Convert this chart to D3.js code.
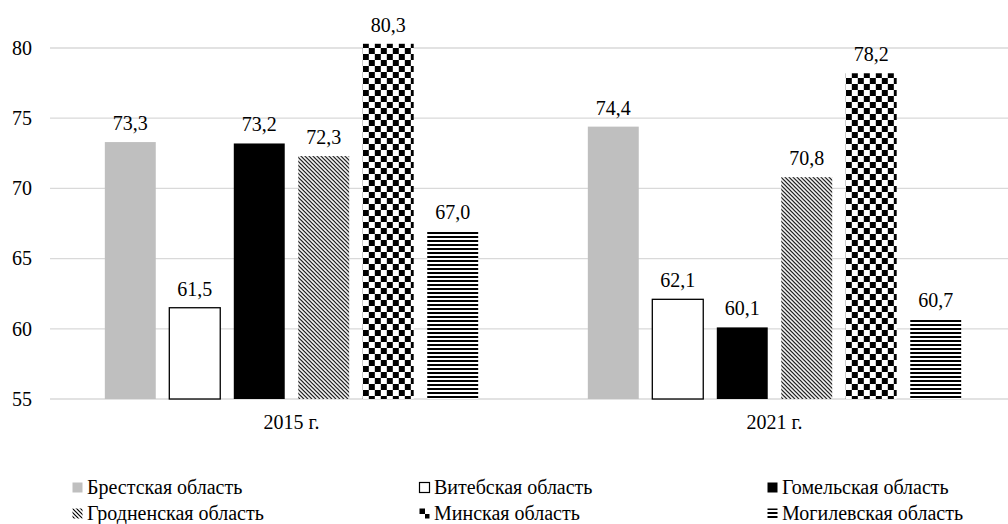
<!DOCTYPE html>
<html>
<head>
<meta charset="utf-8">
<script src="https://cdn.jsdelivr.net/npm/d3@7/dist/d3.min.js"></script>
</head>
<body style="margin:0">
<svg id="chart" width="1008" height="524"></svg>
<script>
// Chart data
const years = ["2015 г.", "2021 г."];
const regions = ["Брестская область", "Витебская область", "Гомельская область",
                 "Гродненская область", "Минская область", "Могилевская область"];
const values2015 = [73.3, 61.5, 73.2, 72.3, 80.3, 67.0];
const values2021 = [74.4, 62.1, 60.1, 70.8, 78.2, 60.7];
const yTicks = [55, 60, 65, 70, 75, 80];

const seriesValues = [values2015, values2021];

const svg = d3.select("#chart");
const width = 1008, height = 524;
const margin = {left: 50, right: -8, top: 48, bottom: 125};
const fontSize = 20;

// same font setup as the test page that rendered serif
const setFont = sel => sel.attr("font-size", fontSize).style("font-family", () => "'Liberation Serif'");

// Patterns for the fills
const defs = svg.append("defs");

const diag = defs.append("pattern").attr("id", "pat-diag")
  .attr("patternUnits", "userSpaceOnUse").attr("width", 4).attr("height", 4);
diag.append("rect").attr("width", 4).attr("height", 4).attr("fill", "#fff");
diag.append("path").attr("d", "M-1,-1 L5,5 M-1,3 L1,5 M3,-1 L5,1")
  .attr("stroke", "#000").attr("stroke-width", 1.2);

const checker = defs.append("pattern").attr("id", "pat-checker")
  .attr("patternUnits", "userSpaceOnUse").attr("width", 12).attr("height", 12);
checker.append("rect").attr("width", 12).attr("height", 12).attr("fill", "#fff");
checker.append("rect").attr("width", 6).attr("height", 6).attr("fill", "#000");
checker.append("rect").attr("x", 6).attr("y", 6).attr("width", 6).attr("height", 6).attr("fill", "#000");

const hlines = defs.append("pattern").attr("id", "pat-hlines")
  .attr("patternUnits", "userSpaceOnUse").attr("width", 4).attr("height", 4);
hlines.append("rect").attr("width", 4).attr("height", 4).attr("fill", "#fff");
hlines.append("rect").attr("y", 0).attr("width", 4).attr("height", 2).attr("fill", "#000");

const fills = ["#bfbfbf", "#fff", "#000", "url(#pat-diag)", "url(#pat-checker)", "url(#pat-hlines)"];
const strokes = ["none", "#000", "none", "none", "none", "none"];

// Scales
const x0 = d3.scaleBand()
  .domain(years)
  .range([margin.left, width - margin.right]);

const x1 = d3.scaleBand()
  .domain(regions)
  .range([0, x0.bandwidth() * 0.773])
  .paddingInner(0.21);

const groupOffset = (x0.bandwidth() - x1.range()[1]) / 2;

const y = d3.scaleLinear()
  .domain([55, 80])
  .range([height - margin.bottom, margin.top]);

// Gridlines
svg.append("g")
  .selectAll("line")
  .data(yTicks)
  .join("line")
  .attr("x1", margin.left)
  .attr("x2", width - margin.right)
  .attr("y1", d => y(d))
  .attr("y2", d => y(d))
  .attr("stroke", "#d9d9d9")
  .attr("stroke-width", 1.3);

// Y axis labels
svg.selectAll("text.ytick")
  .data(yTicks)
  .join("text")
  .attr("class", "ytick")
  .attr("x", margin.left - 18)
  .attr("y", d => y(d))
  .attr("dy", "0.34em")
  .attr("text-anchor", "end")
  .call(setFont)
  .text(d => d);

// X axis labels
svg.selectAll("text.xtick")
  .data(years)
  .join("text")
  .attr("class", "xtick")
  .attr("x", d => x0(d) + x0.bandwidth() / 2)
  .attr("y", y(55) + 30)
  .attr("text-anchor", "middle")
  .call(setFont)
  .text(d => d);

// Bars
const groups = svg.append("g")
  .selectAll("g")
  .data(years)
  .join("g")
  .attr("transform", d => "translate(" + (x0(d) + groupOffset) + ",0)");

groups.selectAll("rect")
  .data((d, i) => seriesValues[i].map((v, j) => ({region: regions[j], value: v, idx: j})))
  .join("rect")
  .attr("x", d => x1(d.region))
  .attr("y", d => y(d.value))
  .attr("width", x1.bandwidth())
  .attr("height", d => y(55) - y(d.value))
  .attr("fill", d => fills[d.idx])
  .attr("stroke", d => strokes[d.idx])
  .attr("stroke-width", 1.3);

// Data labels
groups.selectAll("text.label")
  .data((d, i) => seriesValues[i].map((v, j) => ({region: regions[j], value: v})))
  .join("text")
  .attr("class", "label")
  .attr("x", d => x1(d.region) + x1.bandwidth() / 2)
  .attr("y", d => y(d.value) - 12)
  .attr("text-anchor", "middle")
  .call(setFont)
  .text(d => d.value.toFixed(1).replace(".", ","));

// Legend
const legendX = [72, 419, 767];
const legendY = [494, 520];
const legend = svg.append("g")
  .selectAll("g")
  .data(regions)
  .join("g")
  .attr("transform", (d, i) => "translate(" + legendX[i % 3] + "," + legendY[Math.floor(i / 3)] + ")");

legend.append("rect")
  .attr("x", 0.5)
  .attr("y", -11.5)
  .attr("width", 10)
  .attr("height", 10)
  .attr("fill", (d, i) => fills[i])
  .attr("stroke", (d, i) => strokes[i])
  .attr("stroke-width", 1.2);

legend.append("text")
  .attr("x", 15)
  .attr("y", 0)
  .call(setFont)
  .text(d => d);
</script>
</body>
</html>
